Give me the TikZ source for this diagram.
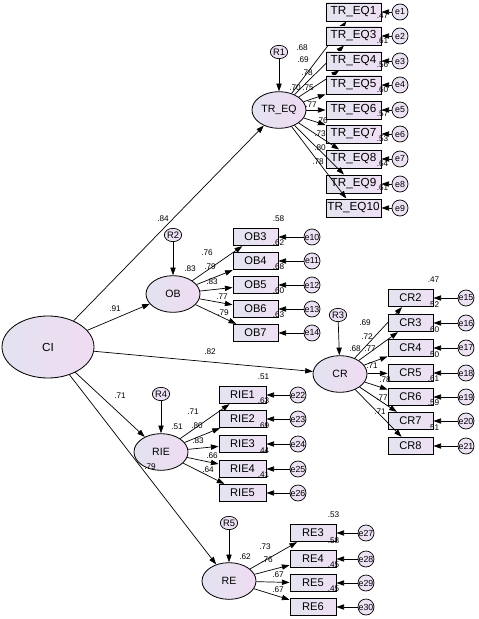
\documentclass[tikz,border=0pt]{standalone}
\usepackage{fontspec}
\setmainfont{Liberation Sans}
\usetikzlibrary{shapes.geometric, arrows.meta, positioning, calc}
\definecolor{latleft}{RGB}{226,226,240}
\definecolor{latright}{RGB}{240,220,242}
\definecolor{obsleft}{RGB}{228,228,240}
\definecolor{obsright}{RGB}{238,224,244}
\definecolor{errfill}{RGB}{236,226,244}

\begin{document}
\begin{tikzpicture}[x=0.03cm, y=-0.03cm,
    latent/.style={ellipse, draw=black, line width=0.7pt, left color=latleft, right color=latright,
                   minimum width=1.62cm, minimum height=1.1cm, inner sep=1pt, font=\fontsize{9}{10}\selectfont},
    obs/.style={rectangle, draw=black, line width=0.8pt, left color=obsleft, right color=obsright,
                minimum width=#1, minimum height=0.52cm, inner sep=1pt, font=\fontsize{9.5}{11}\selectfont},
    obs/.default=1.35cm,
    err/.style={circle, draw=black, line width=0.6pt, fill=errfill, minimum size=0.48cm,
                inner sep=0pt, font=\fontsize{7.5}{8}\selectfont},
    resid/.style={ellipse, draw=black, line width=0.6pt, fill=errfill, minimum width=0.52cm,
                  minimum height=0.4cm, inner sep=0pt, font=\fontsize{8}{9}\selectfont},
    coef/.style={inner sep=0pt, font=\fontsize{7}{8}\selectfont},
    arr/.style={-{Triangle[length=6.5pt, width=4.5pt]}, line width=0.6pt}
]
\useasboundingbox (0,0) rectangle (478,619);

% Latent variables
\node[latent, minimum width=2.76cm, minimum height=1.86cm, font=\fontsize{10}{11}\selectfont] (CI) at (48,347) {CI};
\node[latent] (TREQ) at (279,110) {TR\_EQ};
\node[latent] (OB) at (173,294) {OB};
\node[latent] (CR) at (340,374) {CR};
\node[latent] (RIE) at (161,452) {RIE};
\node[latent] (RE) at (229,581) {RE};

% Residuals
\node[resid] (R1) at (279,52) {R1};
\node[resid] (R2) at (173,235) {R2};
\node[resid] (R3) at (338,315) {R3};
\node[resid] (R4) at (161,394) {R4};
\node[resid] (R5) at (229,523) {R5};
\foreach \r/\n in {R1/TREQ,R2/OB,R3/CR,R4/RIE,R5/RE}
    \draw[arr] (\r) -- (\n);

% Structural paths
\foreach \n in {TREQ,OB,CR,RIE,RE}
    \draw[arr] (CI) -- (\n);
\node[coef] (cTREQ) at (163,219) {.84};
\node[coef] (cOB) at (115,309) {.91};
\node[coef] (cCR) at (210,352) {.82};
\node[coef] (cRIE) at (120,396) {.71};
\node[coef] (cRE) at (150,467) {.79};

% Squared multiple correlations of latents
\node[coef] (sTREQ) at (295,88) {.70};
\node[coef] (sOB) at (190,269) {.83};
\node[coef] (sCR) at (355,349) {.68};
\node[coef] (sRIE) at (177,427) {.51};
\node[coef] (sRE) at (245,557) {.62};

% TR_EQ indicators
\foreach \i/\y/\e/\ld/\lx/\ly in {1/12/1/.68/302/48, 3/36/2/.69/303/60, 4/61/3/.78/307/73,
        5/85/4/.75/308/88, 6/110/5/.77/311/105, 7/134/6/.76/322/121, 8/159/7/.73/320/134,
        9/184/8/.80/320/148, 10/208/9/.78/318/162}
{
    \node[obs=1.65cm, minimum height=0.54cm, font=\fontsize{10}{11}\selectfont] (treq\i) at (353.5,\y) {TR\_EQ\i};
    \node[err] (e\e) at (400,\y) {e\e};
    \draw[arr] (TREQ) -- (treq\i);
    \draw[arr] (e\e) -- (treq\i);
    \node[coef] (ltreq\i) at (\lx,\ly) {\ld};
}
\foreach \i/\r in {3/.47, 4/.61, 5/.56, 6/.60, 7/.57, 8/.53, 9/.64, 10/.61}
    \node[coef] (rtreq\i) at ($(treq\i.north east)+(1,-10.5)$) {\r};

% OB indicators
\foreach \i/\y/\e/\ld/\lx/\ly/\r in {3/237/10/.76/207/253/.58, 4/261/11/.79/210/267/.62,
        5/285/12/.83/212/282/.68, 6/309/13/.77/222/297/.60, 7/333/14/.79/223/313/.63}
{
    \node[obs] (ob\i) at (255.5,\y) {OB\i};
    \node[err] (e\e) at (312,\y) {e\e};
    \draw[arr] (OB) -- (ob\i);
    \draw[arr] (e\e) -- (ob\i);
    \node[coef] (lob\i) at (\lx,\ly) {\ld};
    \node[coef] (rob\i) at ($(ob\i.north east)+(0,-9.5)$) {\r};
}

% CR indicators
\foreach \i/\y/\e/\ld/\lx/\ly/\r in {2/298/15/.69/365/323/.47, 3/323/16/.72/367/337/.52,
        4/348/17/.77/370/349/.60, 5/373/18/.71/372/366/.50, 6/397/19/.78/385/380/.61,
        7/421/20/.77/382/398/.59, 8/446/21/.71/380/412/.51}
{
    \node[obs] (cr\i) at (410.5,\y) {CR\i};
    \node[err] (e\e) at (466,\y) {e\e};
    \draw[arr] (CR) -- (cr\i);
    \draw[arr] (e\e) -- (cr\i);
    \node[coef] (lcr\i) at (\lx,\ly) {\ld};
    \node[coef] (rcr\i) at ($(cr\i.north east)+(0,-9.5)$) {\r};
}

% RIE indicators
\foreach \i/\y/\e/\ld/\lx/\ly/\r in {1/395/22/.71/193/412/.51, 2/419/23/.80/197/426/.63,
        3/444/24/.83/198/441/.69, 4/469/25/.66/212/456/.44, 5/493/26/.64/208/470/.41}
{
    \node[obs=1.41cm] (rie\i) at (242.5,\y) {RIE\i};
    \node[err] (e\e) at (298,\y) {e\e};
    \draw[arr] (RIE) -- (rie\i);
    \draw[arr] (e\e) -- (rie\i);
    \node[coef] (lrie\i) at (\lx,\ly) {\ld};
    \node[coef] (rrie\i) at ($(rie\i.north east)+(-3,-9.5)$) {\r};
}

% RE indicators
\foreach \i/\y/\e/\ld/\lx/\ly/\r in {3/533/27/.73/265/547/.53, 4/559/28/.76/267/560/.58,
        5/583/29/.67/278/575/.45, 6/607/30/.67/278/590/.45}
{
    \node[obs=1.38cm] (re\i) at (313,\y) {RE\i};
    \node[err] (e\e) at (366,\y) {e\e};
    \draw[arr] (RE) -- (re\i);
    \draw[arr] (e\e) -- (re\i);
    \node[coef] (lre\i) at (\lx,\ly) {\ld};
    \node[coef] (rre\i) at ($(re\i.north east)+(-3,-9.5)$) {\r};
}

\end{tikzpicture}
\end{document}
